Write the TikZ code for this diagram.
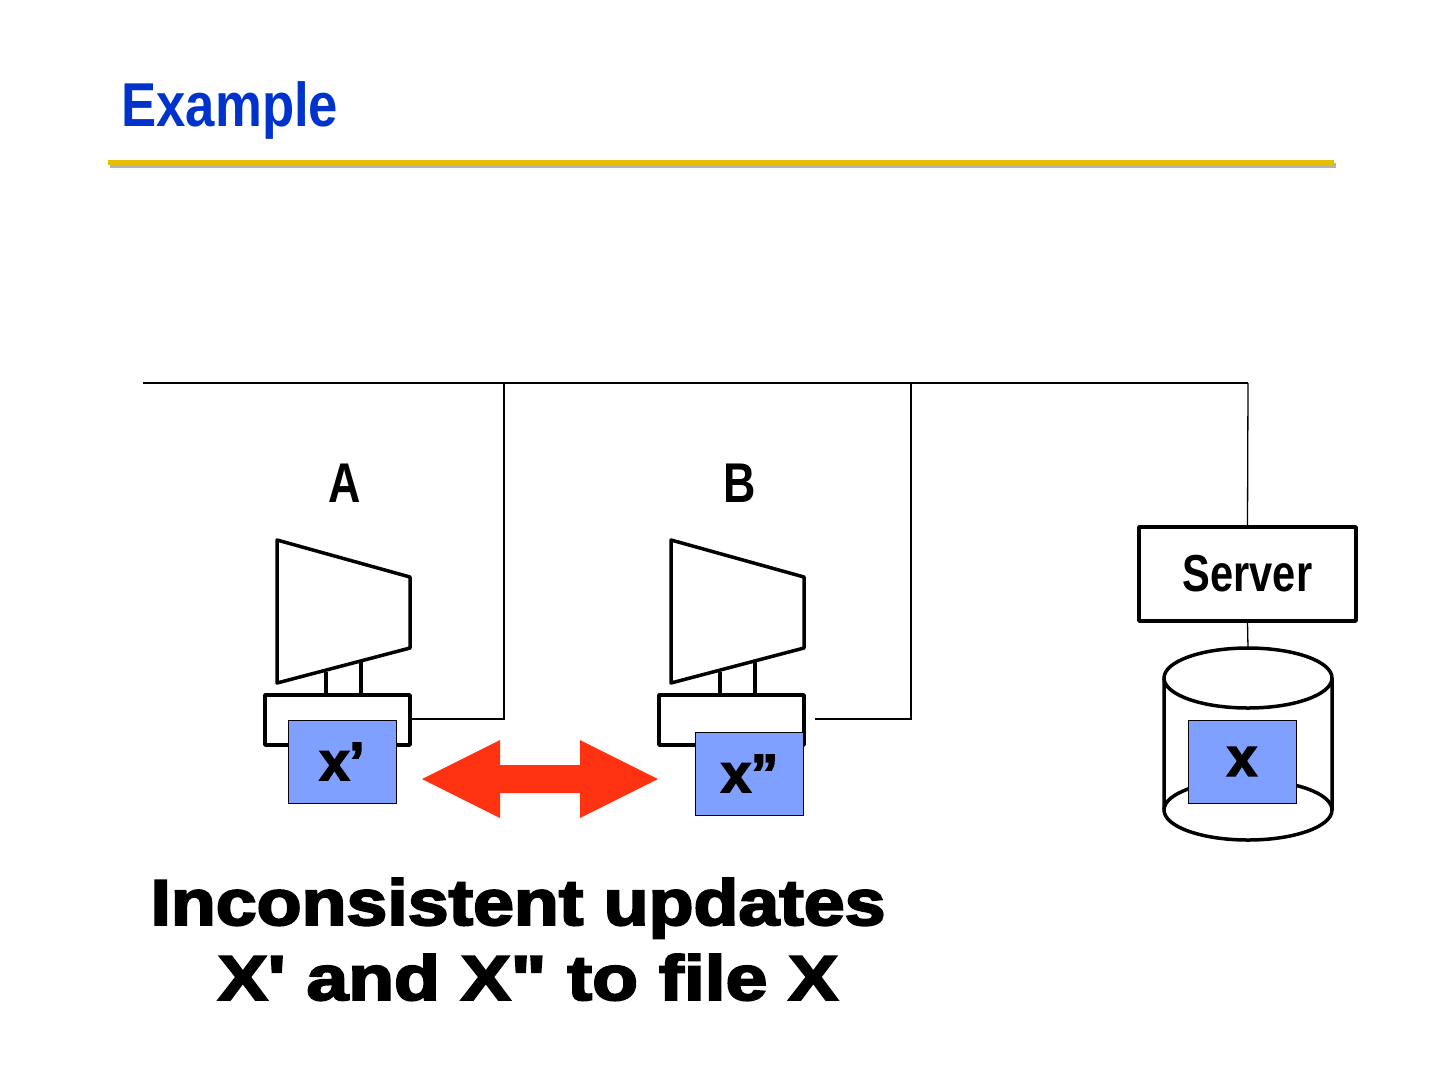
\documentclass[tikz,border=0pt]{standalone}
\usepackage{fontspec}
\setmainfont{Liberation Sans}
\newfontfamily\heavy{Liberation Sans}[BoldFont={Liberation Sans Bold},BoldFeatures={FakeBold=3}]
\begin{document}
\begin{tikzpicture}[x=1pt,y=-1pt,
  thick line/.style={line width=3.5pt,line join=round},
  thin line/.style={line width=1.3pt},
  file/.style={draw=black,line width=1pt,fill={rgb,255:red,128;green,160;blue,255},minimum width=108pt,inner sep=0pt,font=\fontsize{54}{54}\heavy\bfseries},
  lbl/.style={font=\fontsize{56}{60}\selectfont\bfseries}]
\useasboundingbox (0,0) rectangle (1440,1080);
\definecolor{ttl}{RGB}{0,51,204}
\definecolor{gold}{RGB}{230,190,0}
\definecolor{arr}{RGB}{255,51,17}
\node[anchor=west,text=ttl,font=\fontsize{62}{70}\selectfont\bfseries] (title) at (118,110) {\scalebox{0.85}[1]{Example}};
\fill[gray!60] (110,163) rectangle (1336,168);
\fill[gold] (108,160) rectangle (1334,165);
% network
\coordinate (n0) at (143,383); \coordinate (nA) at (504,383); \coordinate (nB) at (911,383); \coordinate (nS) at (1248,383);
\coordinate (eA) at (410,719); \coordinate (eB) at (815,719);
\draw[thin line] (n0) -- (nS);
\draw[thin line] (nA) |- (eA);
\draw[thin line] (nB) |- (eB);
% labels
\node[lbl] (A) at (345,483) {\scalebox{0.8}[1]{A}};
\node[lbl] (B) at (740,483) {\scalebox{0.8}[1]{B}};
% monitors
\foreach \dx/\nm in {0/mA,394/mB}{
\begin{scope}[xshift=\dx pt]
\draw[thick line,fill=white] (277,540) -- (410,577) -- (410,648) -- (277,683) -- cycle;
\draw[thick line] (326,672) -- (326,695) (361,661) -- (361,695);
\draw[thick line,fill=white] (265,695) rectangle (410,745);
\end{scope}}
\node[file,minimum height=83pt] (xa) at (342,761.5) {x’};
\node[file,minimum height=83pt] (xb) at (749.5,773.5) {x”};
% arrow
\fill[arr] (422,779) -- (500,740) -- (500,765) -- (580,765) -- (580,740) -- (658,779) -- (580,818) -- (580,793) -- (500,793) -- (500,818) -- cycle;
% server
\node[draw,thick line,minimum width=217pt,minimum height=94pt,font=\fontsize{52}{52}\selectfont\bfseries] (srv) at (1247.5,574) {\scalebox{0.8}[1]{Server}};
\draw[thin line] (nS) -- (srv.north);
\coordinate (cyl) at (1248,648);
\draw[thin line] (srv.south) -- (cyl);
\draw[thick line,fill=white] (1164,678) -- (1164,810) arc[start angle=180,end angle=360,x radius=84,y radius=-30] -- (1332,678);
\draw[thick line] (1164,810) arc[start angle=180,end angle=0,x radius=84,y radius=-30];
\draw[thick line,fill=white] (1248,678) ellipse[x radius=84,y radius=30];
\node[file,minimum height=83pt] (xs) at (1242,761.5) {x};
% bottom text
\node[font=\heavy\bfseries,anchor=base] (msg1) at (518,925) {\resizebox{735pt}{47pt}{Inconsistent updates}};
\node[font=\heavy\bfseries,anchor=base] (msg2) at (528,1000) {\resizebox{620pt}{46pt}{X\symbol{39} and X\symbol{34} to file X}};
\end{tikzpicture}
\end{document}
